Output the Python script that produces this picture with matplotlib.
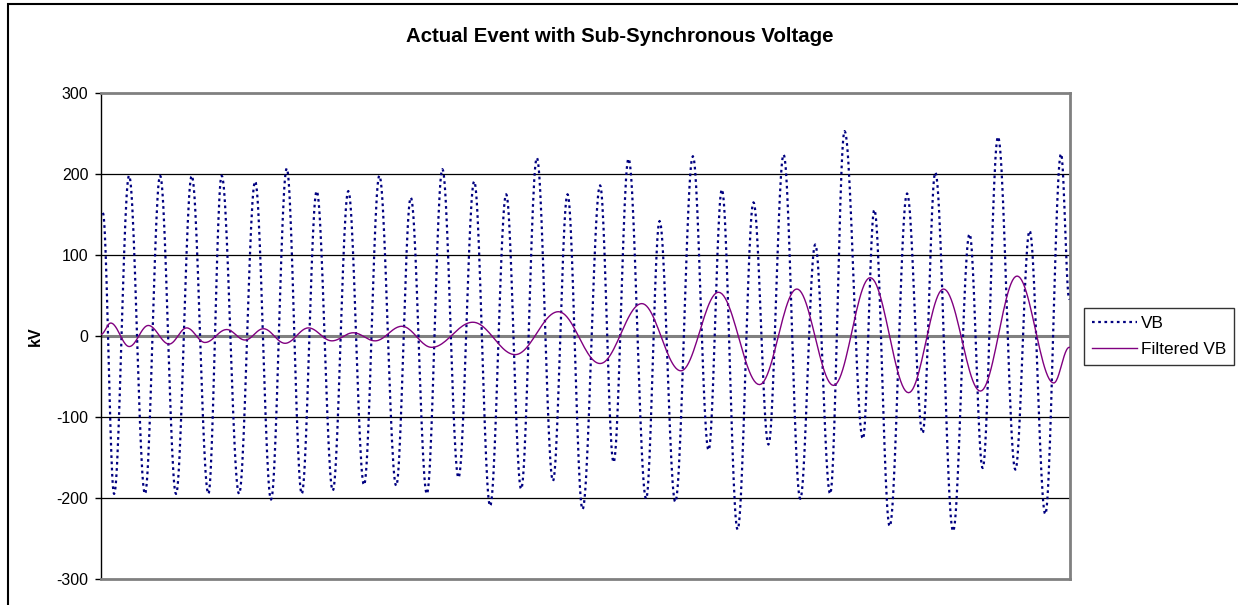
import numpy as np
import matplotlib.pyplot as plt
from matplotlib.patches import Rectangle

# peaks / troughs of the raw phase voltage (time in ms, value in kV)
vb_t = [1.0, 7.0, 15.0, 23.5, 31.6, 40.1, 48.5, 57.4, 64.5, 73.8,
        82.4, 90.9, 99.3, 107.3, 115.3, 123.9, 132.2, 140.6, 148.8, 157.8,
        165.6, 174.2, 182.5, 191.1, 199.5, 208.0, 216.6, 224.6, 233.0, 241.6,
        249.4, 257.4, 266.8, 274.0, 282.0, 291.4, 298.6, 307.0, 316.4, 324.8,
        331.9, 340.3, 348.8, 356.8, 364.9, 373.8, 381.8, 389.8, 397.5, 407.3,
        413.4, 421.6, 430.9, 439.2, 446.0, 455.5, 464.3, 471.3, 479.5, 488.8,
        496.4, 504.8, 513.2, 517.6]
vb_kv = [152, -195, 198, -195, 198, -195, 198, -195, 198, -195,
         191, -202, 207, -195, 179, -191, 179, -184, 198, -185,
         171, -195, 206, -175, 191, -210, 175, -189, 220, -179,
         175, -214, 186, -156, 219, -201, 142, -205, 222, -141,
         181, -239, 165, -134, 224, -201, 113, -195, 253, -127,
         156, -235, 176, -120, 202, -241, 126, -163, 246, -165,
         130, -220, 225, 45]

# peaks / troughs of the filtered sub-synchronous component
filt_t = [0.0, 5.2, 15.1, 25.3, 36.4, 45.8, 55.6, 67.2, 77.0, 86.8,
          98.4, 110.9, 123.4, 134.9, 146.5, 160.8, 176.8, 198.8, 221.4, 244.5,
          266.8, 289.1, 310.0, 330.1, 352.0, 372.0, 391.6, 411.2, 431.7, 450.4,
          470.1, 489.7, 509.3, 517.6]
filt_kv = [2, 16, -13, 13, -10, 10, -8, 8, -5, 9,
           -9, 10, -6, 4, -6, 12, -14, 17, -23, 30,
           -34, 40, -43, 54, -60, 58, -61, 72, -70, 58,
           -68, 74, -58, -14]


def smooth(t, v, n=24):
    # half-cosine segments between successive extrema
    xs, ys = [], []
    s = np.linspace(0, 1, n, endpoint=False)
    for i in range(len(t) - 1):
        xs.extend(t[i] + (t[i + 1] - t[i]) * s)
        ys.extend(v[i] + (v[i + 1] - v[i]) * (1 - np.cos(np.pi * s)) / 2)
    xs.append(t[-1])
    ys.append(v[-1])
    return np.array(xs), np.array(ys)


plt.rcParams['font.family'] = ['Liberation Sans', 'DejaVu Sans']
plt.rcParams['axes.unicode_minus'] = False

fig = plt.figure(figsize=(12.38, 6.05), dpi=100)
W, H = 1238, 605
ax = fig.add_axes([101 / W, 1 - 579 / H, (1070 - 101) / W, (579 - 93) / H])

# outer chart border (runs off the right and bottom edges)
fig.patches.append(Rectangle((7.5 / W, -0.1), 1.2, 1 - 4 / H + 0.1,
                             transform=fig.transFigure, fill=False,
                             edgecolor='black', linewidth=1.5))

for y in [-200, -100, 100, 200]:
    ax.axhline(y, color='black', linewidth=0.9, zorder=1)
ax.axhline(0, color='#808080', linewidth=2.2, zorder=1)

x, y = smooth(vb_t, vb_kv)
ax.plot(x, y, color='#000080', linewidth=1.6, linestyle=(0, (1.2, 1.6)),
        label='VB', zorder=3)
x, y = smooth(filt_t, filt_kv)
ax.plot(x, y, color='#800080', linewidth=1.0, label='Filtered VB', zorder=4)

ax.set_xlim(0, 518)
ax.set_ylim(-300, 300)
ax.set_yticks(range(-300, 301, 100))
ax.set_xticks([])
ax.tick_params(axis='y', direction='out', length=4, width=1,
               labelsize=11.5, pad=5)

for side in ['top', 'right', 'bottom']:
    ax.spines[side].set_color('#808080')
    ax.spines[side].set_linewidth(2)
ax.spines['left'].set_color('black')
ax.spines['left'].set_linewidth(1)

fig.text(35 / W, 1 - 336 / H, 'kV', rotation=90, ha='center', va='center',
         fontsize=11.5, fontweight='bold')
fig.text(620 / W, 1 - 37 / H, 'Actual Event with Sub-Synchronous Voltage',
         ha='center', va='center', fontsize=14.7, fontweight='bold')

leg = fig.legend(loc='upper left', bbox_to_anchor=(1084 / W, 1 - 308 / H),
                 prop={'size': 12.4}, frameon=True, fancybox=False,
                 shadow=False, handlelength=2.6, handletextpad=0.25,
                 borderpad=0.45, labelspacing=0.65, borderaxespad=0)
leg.get_frame().set_edgecolor('black')
leg.get_frame().set_linewidth(1)

fig.savefig('out.png', dpi=100)
